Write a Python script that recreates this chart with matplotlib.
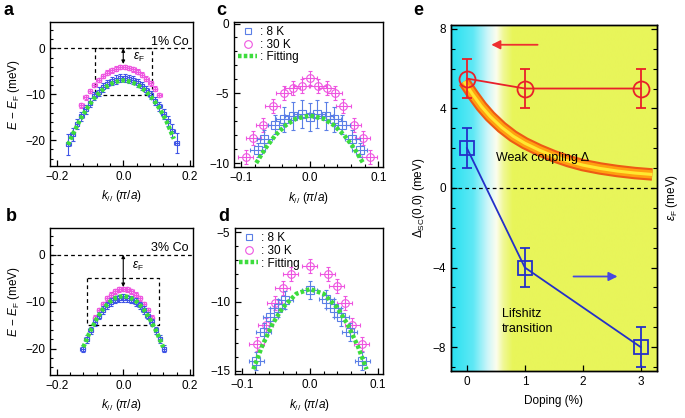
import numpy as np
import matplotlib
matplotlib.use("Agg")
import matplotlib.pyplot as plt
from matplotlib.lines import Line2D
from matplotlib.ticker import MultipleLocator

plt.rcParams['font.family'] = ['Liberation Sans', 'DejaVu Sans']
plt.rcParams['mathtext.fontset'] = 'custom'
plt.rcParams['mathtext.rm'] = 'Liberation Sans'
plt.rcParams['mathtext.it'] = 'Liberation Sans:italic'
plt.rcParams['mathtext.bf'] = 'Liberation Sans:bold'
plt.rcParams['font.size'] = 8.5
plt.rcParams['xtick.direction'] = 'in'
plt.rcParams['ytick.direction'] = 'in'
plt.rcParams['axes.linewidth'] = 1.0

## ---------------- data ----------------
# panel a : 1% Co
k_a_8K = [-0.165, -0.152, -0.139, -0.126, -0.113, -0.100, -0.087, -0.074, -0.061, -0.048, -0.035, -0.022, -0.009,
          0.004, 0.017, 0.030, 0.043, 0.056, 0.069, 0.082, 0.095, 0.108, 0.121, 0.134, 0.147, 0.160]
E_a_8K = [-20.9, -18.7, -16.5, -14.8, -13.3, -11.8, -10.4, -9.4, -8.5, -7.7, -7.1, -6.8, -6.5,
          -6.5, -6.6, -6.9, -7.5, -8.2, -9.1, -10.1, -11.4, -12.6, -14.3, -15.8, -17.9, -20.6]
dE_a_8K = [2.3, 1.4, 1.1, 1.0, 0.9, 0.9, 0.9, 0.9, 0.9, 0.9, 0.9, 0.9, 0.9,
           0.9, 0.9, 0.9, 0.9, 0.9, 0.9, 0.9, 0.9, 1.0, 1.0, 1.1, 1.4, 2.2]
k_a_30K = [-0.126, -0.113, -0.100, -0.087, -0.074, -0.061, -0.048, -0.035, -0.022, -0.009,
           0.004, 0.017, 0.030, 0.043, 0.056, 0.069, 0.082, 0.095, 0.108]
E_a_30K = [-12.4, -10.7, -9.3, -8.0, -6.9, -6.0, -5.3, -4.8, -4.4, -4.1,
           -4.1, -4.3, -4.6, -5.1, -5.7, -6.6, -7.6, -8.8, -10.2]
k_a_fit = [-0.166, -0.15, -0.13, -0.11, -0.09, -0.07, -0.05, -0.03, -0.01, 0.0,
           0.01, 0.03, 0.05, 0.07, 0.09, 0.11, 0.13, 0.152]
E_a_fit = [-21.0, -18.5, -15.6, -13.2, -11.1, -9.5, -8.3, -7.5, -7.05, -7.0,
           -7.05, -7.5, -8.3, -9.5, -11.1, -13.2, -15.9, -19.7]

# panel b : 3% Co
k_b_8K = [-0.122, -0.110, -0.098, -0.085, -0.073, -0.061, -0.049, -0.037, -0.024, -0.012, 0.0,
          0.012, 0.024, 0.037, 0.049, 0.061, 0.073, 0.085, 0.098, 0.110, 0.122]
E_b_8K = [-20.0, -18.0, -16.1, -14.4, -13.0, -11.8, -10.8, -10.1, -9.6, -9.3, -9.2,
          -9.3, -9.6, -10.1, -10.8, -11.8, -13.0, -14.4, -16.1, -18.0, -20.0]
k_b_30K = [-0.085, -0.073, -0.061, -0.049, -0.037, -0.024, -0.012, 0.0,
           0.012, 0.024, 0.037, 0.049, 0.061, 0.073, 0.085]
E_b_30K = [-13.4, -11.8, -10.5, -9.3, -8.5, -7.8, -7.4, -7.3,
           -7.4, -7.8, -8.5, -9.3, -10.5, -11.8, -13.4]
k_b_fit = [-0.12, -0.10, -0.08, -0.06, -0.04, -0.02, 0.0, 0.02, 0.04, 0.06, 0.08, 0.10, 0.12]
E_b_fit = [-19.7, -16.4, -13.7, -11.5, -10.0, -9.1, -8.8, -9.1, -10.0, -11.5, -13.7, -16.4, -19.7]

# panel c : zoom of a
k_c_8K = [-0.076, -0.066, -0.050, -0.038, -0.025, -0.012, 0.0, 0.011, 0.023, 0.035, 0.047, 0.062, 0.073]
E_c_8K = [-9.05, -8.25, -7.25, -6.85, -6.6, -6.5, -6.7, -6.5, -6.6, -6.85, -7.25, -8.25, -9.05]
dE_c_8K = [0.5, 0.6, 0.7, 0.9, 1.0, 1.0, 1.0, 1.0, 1.0, 0.9, 0.7, 0.6, 0.5]
k_c_30K = [-0.093, -0.082, -0.068, -0.054, -0.038, -0.025, -0.012, 0.0,
           0.012, 0.025, 0.036, 0.049, 0.064, 0.077, 0.087]
E_c_30K = [-9.6, -8.2, -7.3, -5.9, -5.0, -4.6, -4.5, -3.9,
           -4.5, -4.6, -5.0, -5.9, -7.3, -8.2, -9.6]
k_c_fit = [-0.078, -0.065, -0.05, -0.035, -0.02, 0.0, 0.02, 0.035, 0.05, 0.065, 0.077]
E_c_fit = [-10.0, -8.97, -8.0, -7.29, -6.82, -6.6, -6.82, -7.29, -8.0, -8.97, -9.95]

# panel d : zoom of b
k_d_8K = [-0.079, -0.068, -0.058, -0.047, -0.036, 0.0, 0.024, 0.035, 0.046, 0.058, 0.077]
E_d_8K = [-14.3, -12.2, -11.1, -10.5, -9.9, -9.2, -9.85, -10.5, -11.1, -12.2, -14.3]
k_d_30K = [-0.078, -0.065, -0.052, -0.040, -0.028, 0.0, 0.026, 0.039, 0.051, 0.062, 0.076]
E_d_30K = [-13.1, -11.7, -10.1, -9.0, -8.0, -7.45, -8.0, -8.9, -10.1, -11.7, -13.1]
k_d_fit = [-0.083, -0.07, -0.055, -0.04, -0.02, 0.0, 0.02, 0.04, 0.055, 0.07, 0.083]
E_d_fit = [-14.9, -13.2, -11.64, -10.44, -9.44, -9.1, -9.44, -10.44, -11.64, -13.2, -14.9]

# panel e
doping = [0, 1, 3]
delta_sc = [5.5, 5.0, 5.0]
delta_err = [1.0, 1.0, 1.0]
eps_f = [2.0, -4.0, -8.0]
eps_err = [1.0, 1.0, 1.0]
doping_wc = [-0.05, 0.1, 0.25, 0.4, 0.6, 0.8, 1.0, 1.25, 1.5, 1.75, 2.0, 2.3, 2.6, 2.9, 3.2]
delta_wc = [5.35, 4.7, 4.1, 3.6, 3.05, 2.6, 2.25, 1.9, 1.6, 1.35, 1.15, 0.98, 0.85, 0.75, 0.68]

blue = '#3f55e6'
blue_l = '#5b7fe6'
mag = '#ee55e0'
green = '#3ddc3d'

fig = plt.figure(figsize=(6.85, 4.18), dpi=100)
ax_a = fig.add_axes([0.073, 0.603, 0.209, 0.344])
ax_b = fig.add_axes([0.073, 0.103, 0.209, 0.352])
ax_c = fig.add_axes([0.342, 0.600, 0.2175, 0.347])
ax_d = fig.add_axes([0.343, 0.105, 0.216, 0.349])
ax_e = fig.add_axes([0.658, 0.1125, 0.301, 0.828])


def band_panel(ax, k8, E8, dE8, k30, E30, kf, Ef, ms, c8, xerr):
    ax.errorbar(k30, E30, yerr=0.5, xerr=xerr, fmt='o', ms=ms, mfc='none', mec=mag, color=mag,
                ecolor=mag, elinewidth=0.8, capsize=1.5, mew=0.8, zorder=2)
    ax.errorbar(k8, E8, yerr=dE8, xerr=xerr, fmt='s', ms=ms, mfc='none', mec=c8, color=c8,
                ecolor=c8, elinewidth=0.8, capsize=1.5, mew=0.8, zorder=3)
    ax.plot(kf, Ef, color=green, lw=3.2, ls=(0, (0.8, 0.5)), zorder=4)


band_panel(ax_a, k_a_8K, E_a_8K, dE_a_8K, k_a_30K, E_a_30K, k_a_fit, E_a_fit, 3.2, blue, 0.007)
band_panel(ax_b, k_b_8K, E_b_8K, 0.8, k_b_30K, E_b_30K, k_b_fit, E_b_fit, 3.2, blue, 0.007)
band_panel(ax_c, k_c_8K, E_c_8K, dE_c_8K, k_c_30K, E_c_30K, k_c_fit, E_c_fit, 5.5, blue_l, 0.011)
band_panel(ax_d, k_d_8K, E_d_8K, 0.65, k_d_30K, E_d_30K, k_d_fit, E_d_fit, 5.5, blue_l, 0.011)

for ax, box, arr_end, txt, lab in [(ax_a, (-0.085, 0.087, -10.2, 0), -3.4, (0.03, -2.6), '1% Co'),
                                    (ax_b, (-0.108, 0.106, -15, -5), -6.9, (0.025, -3.0), '3% Co')]:
    ax.set_xlim(-0.22, 0.21)
    ax.set_ylim(-25.6, 5.7)
    ax.axhline(0, color='k', lw=0.9, ls=(0, (3, 2.5)), zorder=1)
    x0, x1, y0, y1 = box
    ax.plot([x0, x0, x1, x1, x0], [y1, y0, y0, y1, y1], color='k', lw=0.9, ls=(0, (3, 2.5)), zorder=1)
    ax.annotate('', xy=(0, arr_end), xytext=(0, 0),
                arrowprops=dict(arrowstyle='<|-|>', color='k', lw=0.8, mutation_scale=5, shrinkA=0, shrinkB=0))
    ax.text(txt[0], txt[1], r'$\varepsilon_{\rm F}$', fontsize=8.5)
    ax.text(0.97, 0.86, lab, transform=ax.transAxes, ha='right', va='center', fontsize=9)
    ax.xaxis.set_major_locator(MultipleLocator(0.2))
    ax.xaxis.set_minor_locator(MultipleLocator(0.04))
    ax.yaxis.set_major_locator(MultipleLocator(10))
    ax.yaxis.set_minor_locator(MultipleLocator(2))
    ax.set_ylabel(r'$E$ − $E_{\rm F}$ (meV)', labelpad=2)
    ax.set_xlabel(r'$k_{//}$ ($\pi/a$)', labelpad=4)
    ax.xaxis.set_major_formatter(plt.FuncFormatter(lambda v, p: f'{v:.1f}'.replace('-', '\u2212')))

ax_c.set_xlim(-0.11, 0.107)
ax_c.set_ylim(-10.3, 0.1)
ax_c.yaxis.set_major_locator(MultipleLocator(5))
ax_d.set_xlim(-0.11, 0.107)
ax_d.set_ylim(-15.25, -4.7)
ax_d.yaxis.set_major_locator(MultipleLocator(5))
for ax in (ax_c, ax_d):
    ax.xaxis.set_major_locator(MultipleLocator(0.1))
    ax.xaxis.set_minor_locator(MultipleLocator(0.02))
    ax.yaxis.set_minor_locator(MultipleLocator(1))
    ax.set_xlabel(r'$k_{//}$ ($\pi/a$)', labelpad=4)
    ax.xaxis.set_major_formatter(plt.FuncFormatter(lambda v, p: f'{v:.1f}'.replace('-', '\u2212')))
    handles = [Line2D([], [], marker='s', ls='none', mfc='none', mec=blue_l, ms=5, mew=0.8),
               Line2D([], [], marker='o', ls='none', mfc='none', mec=mag, ms=5.5, mew=0.8),
               Line2D([], [], color=green, lw=3.2, ls=(0, (0.8, 0.5)))]
    ax.legend(handles, [': 8 K', ': 30 K', ': Fitting'], loc='upper left', frameon=False, fontsize=8.5,
              handlelength=1.6, handletextpad=0.25, labelspacing=0.05, borderaxespad=0.15, borderpad=0.2)

for ax in (ax_a, ax_b, ax_c, ax_d):
    ax.tick_params(which='major', length=4, width=0.9)
    ax.tick_params(which='minor', length=2, width=0.8)

# ---- panel e ----
xmin, xmax, ymin, ymax = -0.28, 3.28, -9.2, 8.2
stops_x = [-0.28, 0.1, 0.35, 0.5, 0.62, 0.78, 3.28]
stops_c = np.array([[40, 225, 240], [95, 232, 245], [205, 246, 250], [252, 253, 238],
                    [240, 248, 150], [232, 245, 90], [232, 245, 90]]) / 255.0
xs = np.linspace(xmin, xmax, 600)
grad = np.stack([np.interp(xs, stops_x, stops_c[:, i]) for i in range(3)], axis=-1)[None, :, :]
ax_e.imshow(grad, extent=[xmin, xmax, ymin, ymax], aspect='auto', zorder=0, interpolation='bilinear')

ax_e.plot(doping_wc, delta_wc, color='#ee5a14', lw=9, solid_capstyle='butt', zorder=1)
ax_e.plot(doping_wc, delta_wc, color='#ffa010', lw=6, solid_capstyle='butt', zorder=1)
ax_e.plot(doping_wc, delta_wc, color='#ffe830', lw=2.2, solid_capstyle='butt', zorder=1)

ax_e.axhline(0, color='k', lw=0.9, ls=(0, (3, 2.5)), zorder=1)
ax_e.errorbar(doping, delta_sc, yerr=delta_err, fmt='-o', color='#e8202a', ms=11.5, mfc='none',
              mew=1.3, lw=1.3, elinewidth=1.3, capsize=3.5, capthick=1.3, zorder=3)

ax_e2 = ax_e.twinx()
ax_e2.errorbar(doping, eps_f, yerr=eps_err, fmt='-s', color='#2430c8', ms=10, mfc='none',
               mew=1.3, lw=1.3, elinewidth=1.3, capsize=3.5, capthick=1.3, zorder=3)

ax_e.annotate('', xy=(0.42, 7.2), xytext=(1.22, 7.2),
              arrowprops=dict(arrowstyle='-|>', color='#ee3030', lw=1.3, mutation_scale=13, shrinkA=0, shrinkB=0))
ax_e.annotate('', xy=(2.6, -4.45), xytext=(1.84, -4.45),
              arrowprops=dict(arrowstyle='-|>', color='#4848e0', lw=1.3, mutation_scale=13, shrinkA=0, shrinkB=0))
ax_e.text(0.5, 1.5, 'Weak coupling Δ', fontsize=9, va='center', zorder=4)
ax_e.text(0.6, -6.7, 'Lifshitz\ntransition', fontsize=9, va='center', linespacing=1.3, zorder=4)

for ax in (ax_e, ax_e2):
    ax.set_xlim(xmin, xmax)
    ax.set_ylim(ymin, ymax)
    ax.yaxis.set_major_locator(MultipleLocator(4))
    ax.yaxis.set_minor_locator(MultipleLocator(1))
    ax.tick_params(which='major', length=4, width=0.9)
    ax.tick_params(which='minor', length=3, width=0.8)
ax_e.xaxis.set_major_locator(MultipleLocator(1))
ax_e.yaxis.set_major_formatter(plt.FuncFormatter(lambda v, p: f'{v:.0f}'.replace('-', '\u2212')))
ax_e2.tick_params(labelright=False)
ax_e.set_xlabel('Doping (%)', labelpad=5)
ax_e.set_ylabel(r'$\Delta_{\rm SC}$(0,0) (meV)', labelpad=4)
ax_e2.set_ylabel(r'$\varepsilon_{\rm F}$ (meV)', labelpad=2)

for lab, x, y in [('a', 0.005, 0.995), ('b', 0.008, 0.502), ('c', 0.315, 0.995), ('d', 0.318, 0.502), ('e', 0.603, 0.995)]:
    fig.text(x, y, lab, fontsize=13, fontweight='bold', va='top')

fig.savefig('out.png', dpi=100)
